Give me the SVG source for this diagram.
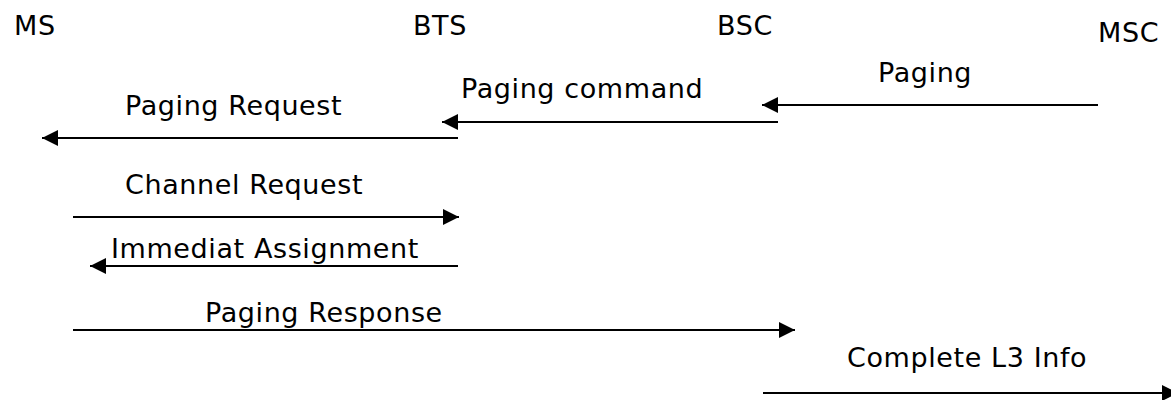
<svg xmlns="http://www.w3.org/2000/svg" width="1171" height="400" viewBox="0 0 1171 400">
<style>
text{font-family:"DejaVu Sans",sans-serif;font-size:27px;letter-spacing:0.6px;fill:#000}
.c{stroke:#000;stroke-width:2;fill:none}
</style>
<defs>
<marker id="ah" viewBox="0 0 16 16" refX="16" refY="8" markerWidth="16" markerHeight="16" markerUnits="userSpaceOnUse" orient="auto">
<path d="M0,0 L16,8 L0,16 Z" fill="#000"/>
</marker>
</defs>
<rect width="1171" height="400" fill="#fff"/>
<g id="ms"><text x="14" y="35">MS</text></g>
<g id="bts"><text x="413" y="35">BTS</text></g>
<g id="bsc"><text x="717" y="35">BSC</text></g>
<g id="msc"><text x="1098" y="42">MSC</text></g>
<g id="connectors">
<g id="paging"><line class="c" x1="1098" y1="105" x2="762" y2="105" marker-end="url(#ah)"/><text x="878" y="82">Paging</text></g>
<g id="paging-command"><line class="c" x1="778" y1="122" x2="442" y2="122" marker-end="url(#ah)"/><text x="461" y="98">Paging command</text></g>
<g id="paging-request"><line class="c" x1="458" y1="138" x2="42" y2="138" marker-end="url(#ah)"/><text x="125" y="115">Paging Request</text></g>
<g id="channel-request"><line class="c" x1="73" y1="217" x2="459" y2="217" marker-end="url(#ah)"/><text x="125" y="194">Channel Request</text></g>
<g id="immediate-assignment"><line class="c" x1="458" y1="266" x2="90" y2="266" marker-end="url(#ah)"/><text x="111" y="258">Immediat Assignment</text></g>
<g id="paging-response"><line class="c" x1="73" y1="330" x2="795" y2="330" marker-end="url(#ah)"/><text x="205" y="322">Paging Response</text></g>
<g id="complete-l3"><line class="c" x1="763" y1="393" x2="1178" y2="393" marker-end="url(#ah)"/><text x="847" y="367">Complete L3 Info</text></g>
</g>
</svg>
